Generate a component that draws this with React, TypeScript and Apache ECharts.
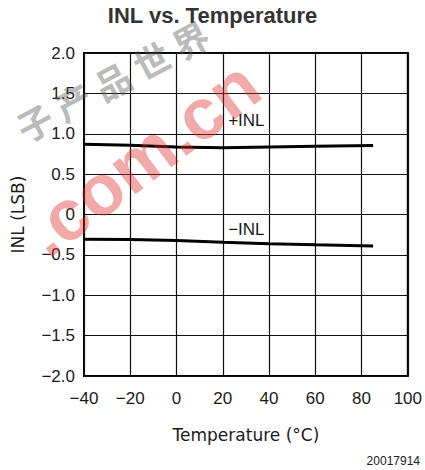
import React, { useEffect, useRef } from 'react';
import * as echarts from 'echarts';

const temps = [-40, -20, 0, 20, 40, 60, 85];
const inlPlus = [0.87, 0.857, 0.835, 0.828, 0.837, 0.845, 0.853];
const inlMinus = [-0.306, -0.31, -0.323, -0.345, -0.363, -0.376, -0.39];
const xRange = [-40, 100];
const xStep = 20;
const yRange = [-2, 2];
const yStep = 0.5;
const titleText = 'INL vs. Temperature';
const xName = 'Temperature (°C)';
const yName = 'INL (LSB)';
const figId = '20017914';
const plusLabel = { text: '+INL', coord: [30.2, 1.16] };
const minusLabel = { text: '−INL', coord: [30.2, -0.18] };

const fmt = (v: number, dec: number) => {
  if (v === 0) return '0';
  const s = dec ? v.toFixed(dec) : String(v);
  return s.replace('-', '−');
};

export default function App() {
  const ref = useRef<HTMLDivElement>(null);
  useEffect(() => {
    if (!ref.current) return;
    const chart = echarts.init(ref.current, undefined, { renderer: 'svg' });
    const tickFont = { fontFamily: 'Liberation Sans', fontSize: 17, color: '#1a1a1a' };
    chart.setOption({
      animation: false,
      backgroundColor: '#fff',
      title: {
        text: titleText,
        left: 'center',
        top: 4,
        padding: 0,
        textStyle: { fontFamily: 'Liberation Sans', fontWeight: 'bold', fontSize: 22, color: '#333' },
      },
      grid: {
        left: 84, top: 53, width: 324, height: 323,
        show: true, borderColor: '#000', borderWidth: 2, backgroundColor: 'transparent',
      },
      xAxis: {
        type: 'value', min: xRange[0], max: xRange[1], interval: xStep,
        axisLine: { show: false }, axisTick: { show: false },
        splitLine: { show: true, lineStyle: { color: '#111', width: 1.2 } },
        axisLabel: { ...tickFont, margin: 14, formatter: (v: number) => fmt(v, 0) },
        name: xName, nameLocation: 'middle', nameGap: 50,
        nameTextStyle: { fontFamily: 'DejaVu Sans', fontSize: 17, color: '#1a1a1a' },
      },
      yAxis: {
        type: 'value', min: yRange[0], max: yRange[1], interval: yStep,
        axisLine: { show: false }, axisTick: { show: false },
        splitLine: { show: true, lineStyle: { color: '#111', width: 1.2 } },
        axisLabel: { ...tickFont, margin: 9, formatter: (v: number) => fmt(v, 1) },
        name: yName, nameLocation: 'middle', nameGap: 58, nameRotate: 90,
        nameTextStyle: { fontFamily: 'DejaVu Sans', fontSize: 17, color: '#1a1a1a' },
      },
      series: [
        {
          type: 'line', data: temps.map((t, i) => [t, inlPlus[i]]),
          symbol: 'none', lineStyle: { color: '#000', width: 3 },
          markPoint: {
            symbol: 'circle', symbolSize: 0, silent: true,
            label: { show: true, position: 'inside', formatter: plusLabel.text, fontFamily: 'Liberation Sans', fontSize: 17, color: '#1a1a1a' },
            data: [{ coord: plusLabel.coord }],
          },
        },
        {
          type: 'line', data: temps.map((t, i) => [t, inlMinus[i]]),
          symbol: 'none', lineStyle: { color: '#000', width: 3 },
          markPoint: {
            symbol: 'circle', symbolSize: 0, silent: true,
            label: { show: true, position: 'inside', formatter: minusLabel.text, fontFamily: 'Liberation Sans', fontSize: 17, color: '#1a1a1a' },
            data: [{ coord: minusLabel.coord }],
          },
        },
      ],
      graphic: [
        {
          type: 'text', right: 5, top: 455, z: 10,
          style: { text: figId, font: '12px "Liberation Sans"', fill: '#222' },
        },
        {
          type: 'text', x: 112, y: 80, rotation: (28 * Math.PI) / 180, z: 20, silent: true,
          style: {
            text: '子 产 品 世 界', font: 'bold 36px "Noto Sans CJK SC"',
            fill: 'rgba(90,90,90,0.42)', align: 'center', verticalAlign: 'middle',
          },
        },
        {
          type: 'text', x: 142, y: 158, rotation: (37 * Math.PI) / 180, z: 21, silent: true,
          style: {
            text: '.com.cn', font: 'bold 72px "Liberation Sans"',
            fill: 'rgba(220,40,40,0.4)', align: 'center', verticalAlign: 'middle',
          },
        },
      ],
    });
    return () => chart.dispose();
  }, []);
  return (
    <div
      ref={ref}
      style={{ position: 'absolute', left: 0, top: 0, width: 425, height: 470 }}
    />
  );
}
